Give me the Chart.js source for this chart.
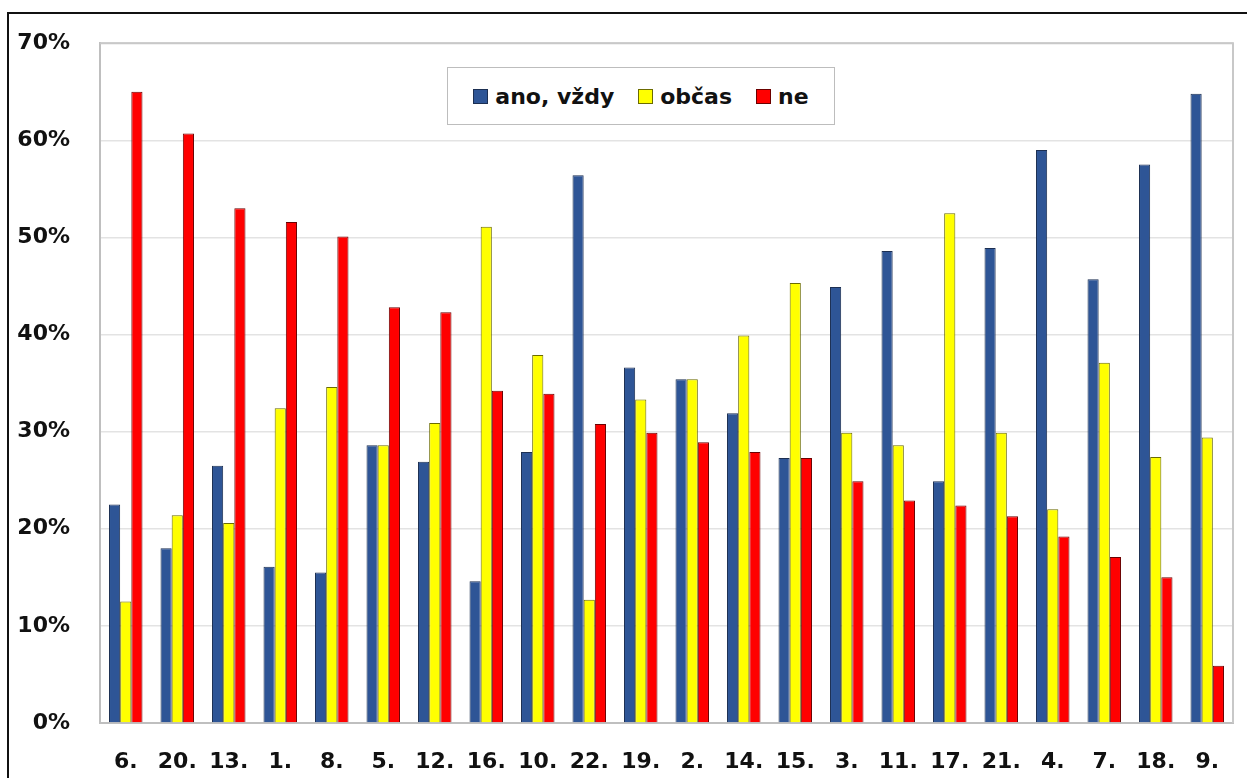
<!DOCTYPE html>
<html>
<head>
<meta charset="utf-8">
<script src="https://cdn.jsdelivr.net/npm/chart.js@4/dist/chart.umd.min.js"></script>
<style>
    html, body { margin: 0; padding: 0; background: #fff; }
    #wrap { position: relative; width: 1247px; height: 778px; overflow: hidden; }
    #frame { position: absolute; left: 7px; top: 12px; width: 1300px; height: 900px;
             border-left: 2px solid #111; border-top: 2px solid #111; box-sizing: border-box; }
    #legend { position: absolute; left: 447px; top: 67px; width: 388px; height: 58px;
              border: 1px solid #bdbdbd; background: #fff; box-sizing: border-box;
              display: flex; align-items: center; justify-content: center; gap: 24px;
              font: bold 22px "DejaVu Sans", sans-serif; color: #111; }
    #legend span.item { display: flex; align-items: center; gap: 7px; }
    #legend span.box { display: inline-block; width: 15px; height: 15px; box-sizing: border-box; }
</style>
</head>
<body>
<div id="wrap">
    <div id="frame"></div>
    <canvas id="chart" width="1247" height="778"></canvas>
    <div id="legend"></div>
</div>
<script>
const categories = ['6.', '20.', '13.', '1.', '8.', '5.', '12.', '16.', '10.', '22.', '19.',
    '2.', '14.', '15.', '3.', '11.', '17.', '21.', '4.', '7.', '18.', '9.'];
const seriesNames = ['ano, vždy', 'občas', 'ne'];
const anoVzdy = [22.5, 18.0, 26.5, 16.1, 15.5, 28.6, 26.9, 14.6, 27.9, 56.4, 36.6,
    35.4, 31.9, 27.3, 44.9, 48.6, 24.9, 48.9, 59.0, 45.7, 57.5, 64.8];
const obcas = [12.5, 21.4, 20.6, 32.4, 34.6, 28.6, 30.9, 51.1, 37.9, 12.7, 33.3,
    35.4, 39.9, 45.3, 29.9, 28.6, 52.5, 29.9, 22.0, 37.1, 27.4, 29.4];
const ne = [65.0, 60.7, 53.0, 51.6, 50.1, 42.8, 42.3, 34.2, 33.9, 30.8, 29.9,
    28.9, 27.9, 27.3, 24.9, 22.9, 22.4, 21.3, 19.2, 17.1, 15.0, 5.9];
const yTicks = [0, 10, 20, 30, 40, 50, 60, 70];

const fills = ['#2e5596', '#ffff00', '#ff0000'];
const borders = ['#1c2f52', '#6b6b00', '#6b0000'];
const seriesValues = [anoVzdy, obcas, ne];

const datasets = seriesNames.map((name, i) => ({
    label: name,
    data: seriesValues[i],
    backgroundColor: fills[i],
    borderColor: borders[i],
    borderWidth: 1,
    categoryPercentage: 0.65,
    barPercentage: 1.0
}));

const tickFont = {family: 'DejaVu Sans', size: 22, weight: 'bold'};

new Chart(document.getElementById('chart'), {
    type: 'bar',
    data: {labels: categories, datasets: datasets},
    options: {
        responsive: false,
        animation: false,
        layout: {padding: {left: 8, top: 42, right: 14, bottom: 0}},
        plugins: {
            legend: {display: false},
            tooltip: {enabled: false}
        },
        scales: {
            x: {
                grid: {display: false, drawTicks: false},
                border: {color: '#bfbfbf', width: 2},
                ticks: {font: tickFont, color: '#111', padding: 26, maxRotation: 0, autoSkip: false},
                afterFit: (s) => { s.height = 55; }
            },
            y: {
                min: 0,
                max: 70,
                afterBuildTicks: (s) => { s.ticks = yTicks.map(v => ({value: v})); },
                grid: {color: '#e3e3e3', lineWidth: 1.5, drawTicks: false},
                border: {color: '#bfbfbf', width: 2},
                ticks: {font: tickFont, color: '#111', padding: 30, callback: (v) => v + '%'},
                afterFit: (s) => { s.width = 92; }
            }
        }
    },
    plugins: [{
        id: 'plotFrame',
        beforeDatasetsDraw(chart) {
            const a = chart.chartArea, c = chart.ctx;
            c.save();
            c.strokeStyle = '#c8c8c8';
            c.lineWidth = 2;
            c.beginPath();
            c.moveTo(a.left, a.top);
            c.lineTo(a.right, a.top);
            c.lineTo(a.right, a.bottom);
            c.stroke();
            c.restore();
        }
    }]
});

const legend = document.getElementById('legend');
seriesNames.forEach((name, i) => {
    const item = document.createElement('span');
    item.className = 'item';
    const box = document.createElement('span');
    box.className = 'box';
    box.style.background = fills[i];
    box.style.border = '1px solid ' + borders[i];
    item.appendChild(box);
    item.appendChild(document.createTextNode(name));
    legend.appendChild(item);
});
</script>
</body>
</html>
